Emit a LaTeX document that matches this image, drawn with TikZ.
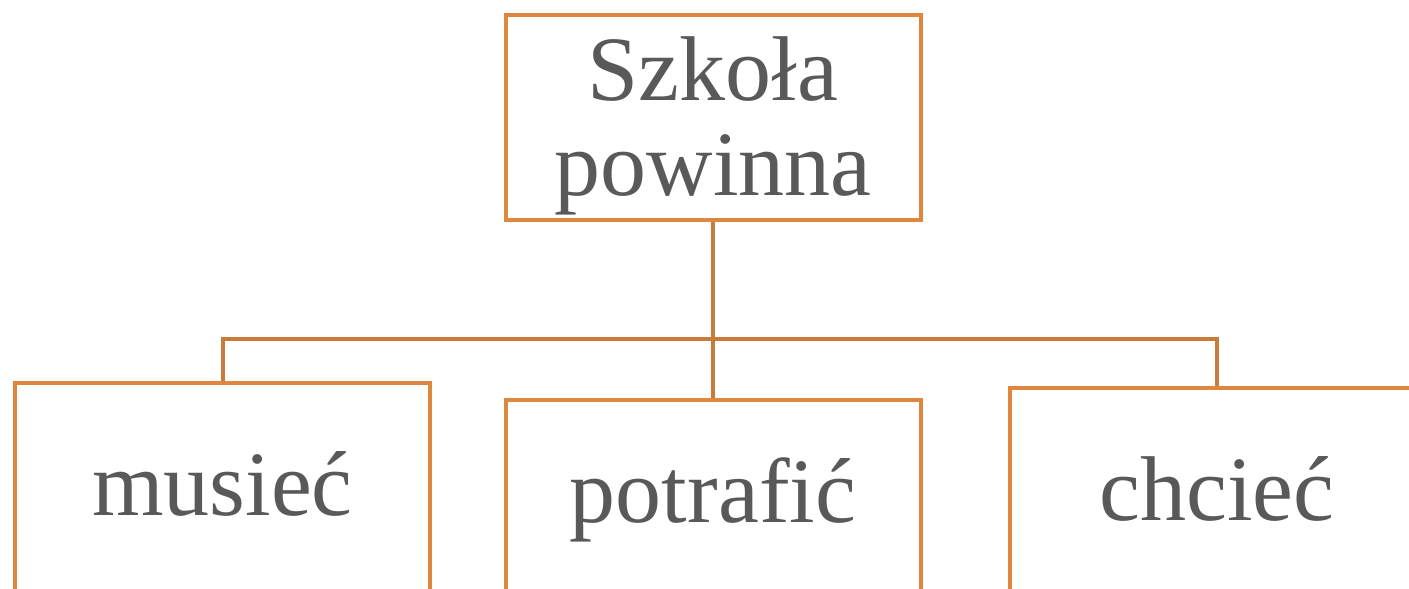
\documentclass[tikz,border=0pt]{standalone}
\usepackage{fontspec}
\setmainfont{Liberation Serif}
\definecolor{boxorange}{HTML}{E0873F}
\definecolor{linkorange}{HTML}{C97B3B}
\definecolor{textgray}{HTML}{595959}
\begin{document}
\begin{tikzpicture}[x=0.5pt,y=-0.5pt,
  box/.style={draw=boxorange,line width=2pt,fill=white,inner sep=0pt,
    minimum width=207.5pt,align=center,text=textgray,
    font=\fontsize{46}{47.5}\selectfont},
  topbox/.style={box,minimum height=102.5pt,text height=80pt,text depth=2.5pt},
  leafbox/.style={box,minimum height=120pt,text height=30pt,text depth=18pt},
  link/.style={draw=linkorange,line width=2pt}]
\useasboundingbox (0,0) rectangle (1409,589);
\clip (0,0) rectangle (1409,589);

\node[topbox] (school) at (713,117.5) {Szkoła\\powinna};
\node[leafbox] (must) at (222.5,503) {musieć};
\node[leafbox,text depth=28pt] (can) at (713,520) {potrafić};
\node[leafbox] (want) at (1217,508) {chcieć};

\coordinate (hub) at (713,339);
\draw[link] (school.south) -- (hub) -- (can.north);
\draw[link] (hub) -| (must.north);
\draw[link] (hub) -| (want.north);
\end{tikzpicture}
\end{document}
